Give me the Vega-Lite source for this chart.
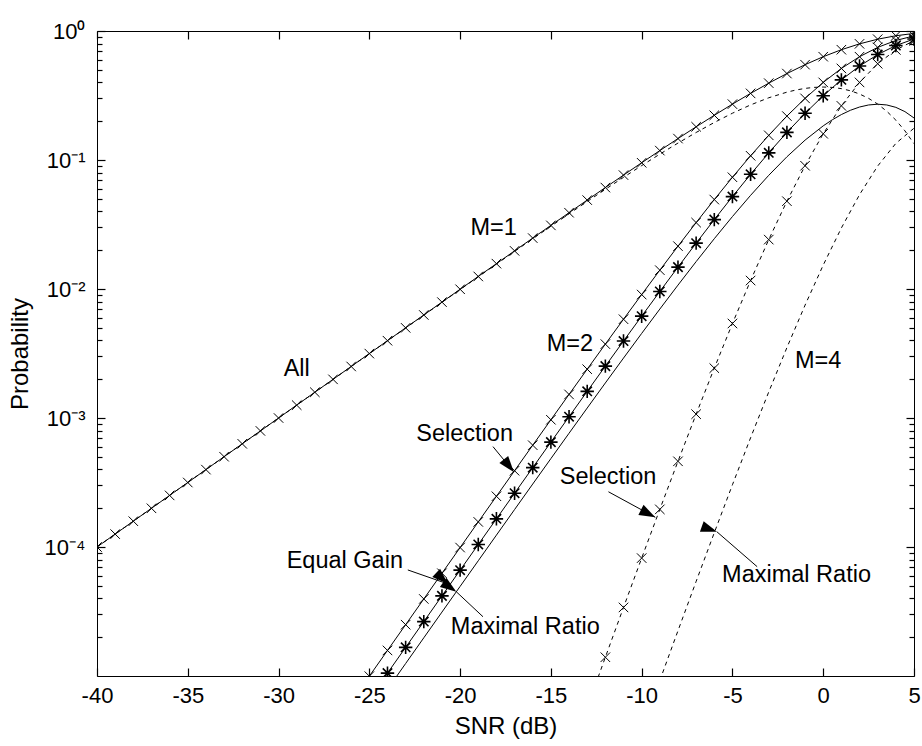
{
  "$schema": "https://vega.github.io/schema/vega-lite/v6.json",
  "width": 817,
  "height": 645,
  "autosize": {"type": "none"},
  "padding": {"left": 97, "top": 31, "right": 8, "bottom": 70},
  "background": "white",
  "config": {
    "view": {"stroke": "black", "strokeWidth": 1},
    "font": "Liberation Sans",
    "axis": {
      "grid": false, "domain": false, "ticks": true, "zindex": 1, "tickColor": "black", "tickWidth": 1.2, "tickOpacity": 1,
      "labelColor": "black", "titleColor": "black",
      "labelFont": "Liberation Sans", "titleFont": "Liberation Sans",
      "labelFontSize": 22, "titleFontSize": 24, "titleFontWeight": "normal",
      "labelFlush": false, "labelOverlap": false
    }
  },
  "datasets": {
    "curves": [
      {"series":"M1All","snr":-40,"p":1.0e-4},{"series":"M1All","snr":-39,"p":1.2588e-4},{"series":"M1All","snr":-38,"p":1.5848e-4},{"series":"M1All","snr":-37,"p":1.9951e-4},{"series":"M1All","snr":-36,"p":2.5116e-4},{"series":"M1All","snr":-35,"p":3.1618e-4},{"series":"M1All","snr":-34,"p":3.9803e-4},{"series":"M1All","snr":-33,"p":5.0106e-4},{"series":"M1All","snr":-32,"p":6.3076e-4},{"series":"M1All","snr":-31,"p":7.9401e-4},{"series":"M1All","snr":-30,"p":9.995e-4},{"series":"M1All","snr":-29,"p":1.2581e-3},{"series":"M1All","snr":-28,"p":1.5836e-3},{"series":"M1All","snr":-27,"p":1.9933e-3},{"series":"M1All","snr":-26,"p":2.5087e-3},{"series":"M1All","snr":-25,"p":3.1573e-3},{"series":"M1All","snr":-24,"p":3.9732e-3},{"series":"M1All","snr":-23,"p":4.9994e-3},{"series":"M1All","snr":-22,"p":6.2897e-3},{"series":"M1All","snr":-21,"p":7.9118e-3},{"series":"M1All","snr":-20,"p":0.00995},{"series":"M1All","snr":-19,"p":0.01251},{"series":"M1All","snr":-18,"p":0.015724},{"series":"M1All","snr":-17,"p":0.019755},{"series":"M1All","snr":-16,"p":0.024806},{"series":"M1All","snr":-15,"p":0.031128},{"series":"M1All","snr":-14,"p":0.039029},{"series":"M1All","snr":-13,"p":0.048884},{"series":"M1All","snr":-12,"p":0.061146},{"series":"M1All","snr":-11,"p":0.076361},{"series":"M1All","snr":-10,"p":0.095163},{"series":"M1All","snr":-9,"p":0.11829},{"series":"M1All","snr":-8,"p":0.14657},{"series":"M1All","snr":-7,"p":0.18089},{"series":"M1All","snr":-6,"p":0.22213},{"series":"M1All","snr":-5,"p":0.27111},{"series":"M1All","snr":-4,"p":0.32841},{"series":"M1All","snr":-3,"p":0.39419},{"series":"M1All","snr":-2,"p":0.46792},{"series":"M1All","snr":-1,"p":0.54812},{"series":"M1All","snr":0,"p":0.63212},{"series":"M1All","snr":1,"p":0.71603},{"series":"M1All","snr":2,"p":0.79503},{"series":"M1All","snr":3,"p":0.86403},{"series":"M1All","snr":4,"p":0.91889},{"series":"M1All","snr":5,"p":0.95767},
      {"series":"M1MR","snr":-40,"p":9.999e-5},{"series":"M1MR","snr":-39,"p":1.2587e-4},{"series":"M1MR","snr":-38,"p":1.5846e-4},{"series":"M1MR","snr":-37,"p":1.9949e-4},{"series":"M1MR","snr":-36,"p":2.5113e-4},{"series":"M1MR","snr":-35,"p":3.1613e-4},{"series":"M1MR","snr":-34,"p":3.9795e-4},{"series":"M1MR","snr":-33,"p":5.0094e-4},{"series":"M1MR","snr":-32,"p":6.3056e-4},{"series":"M1MR","snr":-31,"p":7.937e-4},{"series":"M1MR","snr":-30,"p":9.99e-4},{"series":"M1MR","snr":-29,"p":1.2573e-3},{"series":"M1MR","snr":-28,"p":1.5824e-3},{"series":"M1MR","snr":-27,"p":1.9913e-3},{"series":"M1MR","snr":-26,"p":2.5056e-3},{"series":"M1MR","snr":-25,"p":3.1523e-3},{"series":"M1MR","snr":-24,"p":3.9653e-3},{"series":"M1MR","snr":-23,"p":4.9868e-3},{"series":"M1MR","snr":-22,"p":6.2699e-3},{"series":"M1MR","snr":-21,"p":7.8804e-3},{"series":"M1MR","snr":-20,"p":9.9005e-3},{"series":"M1MR","snr":-19,"p":0.012432},{"series":"M1MR","snr":-18,"p":0.0156},{"series":"M1MR","snr":-17,"p":0.019559},{"series":"M1MR","snr":-16,"p":0.024496},{"series":"M1MR","snr":-15,"p":0.030639},{"series":"M1MR","snr":-14,"p":0.038257},{"series":"M1MR","snr":-13,"p":0.047669},{"series":"M1MR","snr":-12,"p":0.059238},{"series":"M1MR","snr":-11,"p":0.073368},{"series":"M1MR","snr":-10,"p":0.090484},{"series":"M1MR","snr":-9,"p":0.111},{"series":"M1MR","snr":-8,"p":0.13526},{"series":"M1MR","snr":-7,"p":0.16344},{"series":"M1MR","snr":-6,"p":0.19539},{"series":"M1MR","snr":-5,"p":0.2305},{"series":"M1MR","snr":-4,"p":0.26737},{"series":"M1MR","snr":-3,"p":0.30363},{"series":"M1MR","snr":-2,"p":0.33572},{"series":"M1MR","snr":-1.5,"p":0.34877},{"series":"M1MR","snr":-1,"p":0.35894},{"series":"M1MR","snr":-0.5,"p":0.36554},{"series":"M1MR","snr":0,"p":0.36788},{"series":"M1MR","snr":0.5,"p":0.36535},{"series":"M1MR","snr":1,"p":0.35749},{"series":"M1MR","snr":1.5,"p":0.34398},{"series":"M1MR","snr":2,"p":0.32486},{"series":"M1MR","snr":2.5,"p":0.3004},{"series":"M1MR","snr":3,"p":0.2713},{"series":"M1MR","snr":3.5,"p":0.23863},{"series":"M1MR","snr":4,"p":0.20375},{"series":"M1MR","snr":4.5,"p":0.16827},{"series":"M1MR","snr":5,"p":0.13385},
      {"series":"M2Sel","snr":-25,"p":9.968e-6},{"series":"M2Sel","snr":-24,"p":1.5786e-5},{"series":"M2Sel","snr":-23,"p":2.4994e-5},{"series":"M2Sel","snr":-22,"p":3.956e-5},{"series":"M2Sel","snr":-21,"p":6.2597e-5},{"series":"M2Sel","snr":-20,"p":9.9003e-5},{"series":"M2Sel","snr":-19,"p":1.565e-4},{"series":"M2Sel","snr":-18,"p":2.4724e-4},{"series":"M2Sel","snr":-17,"p":3.9026e-4},{"series":"M2Sel","snr":-16,"p":6.1534e-4},{"series":"M2Sel","snr":-15,"p":9.6895e-4},{"series":"M2Sel","snr":-14,"p":1.5233e-3},{"series":"M2Sel","snr":-13,"p":2.3897e-3},{"series":"M2Sel","snr":-12,"p":3.7388e-3},{"series":"M2Sel","snr":-11,"p":5.831e-3},{"series":"M2Sel","snr":-10,"p":9.056e-3},{"series":"M2Sel","snr":-9,"p":0.013993},{"series":"M2Sel","snr":-8,"p":0.021483},{"series":"M2Sel","snr":-7,"p":0.032721},{"series":"M2Sel","snr":-6,"p":0.049346},{"series":"M2Sel","snr":-5,"p":0.073506},{"series":"M2Sel","snr":-4,"p":0.10785},{"series":"M2Sel","snr":-3,"p":0.15539},{"series":"M2Sel","snr":-2,"p":0.21895},{"series":"M2Sel","snr":-1,"p":0.30044},{"series":"M2Sel","snr":0,"p":0.39958},{"series":"M2Sel","snr":1,"p":0.5127},{"series":"M2Sel","snr":2,"p":0.63207},{"series":"M2Sel","snr":3,"p":0.74655},{"series":"M2Sel","snr":4,"p":0.84436},{"series":"M2Sel","snr":5,"p":0.91713},
      {"series":"M2EGC","snr":-25,"p":6.65e-6},{"series":"M2EGC","snr":-24,"p":1.0532e-5},{"series":"M2EGC","snr":-23,"p":1.6679e-5},{"series":"M2EGC","snr":-22,"p":2.6407e-5},{"series":"M2EGC","snr":-21,"p":4.1797e-5},{"series":"M2EGC","snr":-20,"p":6.6136e-5},{"series":"M2EGC","snr":-19,"p":1.046e-4},{"series":"M2EGC","snr":-18,"p":1.6535e-4},{"series":"M2EGC","snr":-17,"p":2.6121e-4},{"series":"M2EGC","snr":-16,"p":4.1229e-4},{"series":"M2EGC","snr":-15,"p":6.5005e-4},{"series":"M2EGC","snr":-14,"p":1.0236e-3},{"series":"M2EGC","snr":-13,"p":1.609e-3},{"series":"M2EGC","snr":-12,"p":2.524e-3},{"series":"M2EGC","snr":-11,"p":3.949e-3},{"series":"M2EGC","snr":-10,"p":6.157e-3},{"series":"M2EGC","snr":-9,"p":9.565e-3},{"series":"M2EGC","snr":-8,"p":0.014778},{"series":"M2EGC","snr":-7,"p":0.022672},{"series":"M2EGC","snr":-6,"p":0.034518},{"series":"M2EGC","snr":-5,"p":0.052031},{"series":"M2EGC","snr":-4,"p":0.077468},{"series":"M2EGC","snr":-3,"p":0.1136},{"series":"M2EGC","snr":-2,"p":0.16373},{"series":"M2EGC","snr":-1,"p":0.2301},{"series":"M2EGC","snr":0,"p":0.31518},{"series":"M2EGC","snr":1,"p":0.41816},{"series":"M2EGC","snr":2,"p":0.53493},{"series":"M2EGC","snr":3,"p":0.65666},{"series":"M2EGC","snr":4,"p":0.77126},{"series":"M2EGC","snr":5,"p":0.86645},
      {"series":"M2MR","snr":-24,"p":7.893e-6},{"series":"M2MR","snr":-23,"p":1.2497e-5},{"series":"M2MR","snr":-22,"p":1.978e-5},{"series":"M2MR","snr":-21,"p":3.1298e-5},{"series":"M2MR","snr":-20,"p":4.9502e-5},{"series":"M2MR","snr":-19,"p":7.8254e-5},{"series":"M2MR","snr":-18,"p":1.2362e-4},{"series":"M2MR","snr":-17,"p":1.9512e-4},{"series":"M2MR","snr":-16,"p":3.0765e-4},{"series":"M2MR","snr":-15,"p":4.8444e-4},{"series":"M2MR","snr":-14,"p":7.6152e-4},{"series":"M2MR","snr":-13,"p":1.1946e-3},{"series":"M2MR","snr":-12,"p":1.8688e-3},{"series":"M2MR","snr":-11,"p":2.9139e-3},{"series":"M2MR","snr":-10,"p":4.5242e-3},{"series":"M2MR","snr":-9,"p":6.9871e-3},{"series":"M2MR","snr":-8,"p":0.010719},{"series":"M2MR","snr":-7,"p":0.016305},{"series":"M2MR","snr":-6,"p":0.02454},{"series":"M2MR","snr":-5,"p":0.036445},{"series":"M2MR","snr":-4,"p":0.05322},{"series":"M2MR","snr":-3,"p":0.076087},{"series":"M2MR","snr":-2,"p":0.10591},{"series":"M2MR","snr":-1,"p":0.14256},{"series":"M2MR","snr":0,"p":0.18394},{"series":"M2MR","snr":0.5,"p":0.20496},{"series":"M2MR","snr":1,"p":0.22503},{"series":"M2MR","snr":1.5,"p":0.24297},{"series":"M2MR","snr":2,"p":0.25743},{"series":"M2MR","snr":2.5,"p":0.26709},{"series":"M2MR","snr":3,"p":0.27066},{"series":"M2MR","snr":3.5,"p":0.26706},{"series":"M2MR","snr":4,"p":0.2559},{"series":"M2MR","snr":4.5,"p":0.23715},{"series":"M2MR","snr":5,"p":0.21164},
      {"series":"M4Sel","snr":-13,"p":5.7107e-6},{"series":"M4Sel","snr":-12,"p":1.3979e-5},{"series":"M4Sel","snr":-11,"p":3.4001e-5},{"series":"M4Sel","snr":-10,"p":8.2011e-5},{"series":"M4Sel","snr":-9,"p":1.958e-4},{"series":"M4Sel","snr":-8,"p":4.6152e-4},{"series":"M4Sel","snr":-7,"p":1.0707e-3},{"series":"M4Sel","snr":-6,"p":2.435e-3},{"series":"M4Sel","snr":-5,"p":5.4031e-3},{"series":"M4Sel","snr":-4,"p":0.011632},{"series":"M4Sel","snr":-3,"p":0.024146},{"series":"M4Sel","snr":-2,"p":0.047939},{"series":"M4Sel","snr":-1,"p":0.090264},{"series":"M4Sel","snr":0,"p":0.15967},{"series":"M4Sel","snr":1,"p":0.26286},{"series":"M4Sel","snr":2,"p":0.39951},{"series":"M4Sel","snr":3,"p":0.55734},{"series":"M4Sel","snr":4,"p":0.71294},{"series":"M4Sel","snr":5,"p":0.84113},
      {"series":"M4MR","snr":-9,"p":9.228e-6},{"series":"M4MR","snr":-8,"p":2.2437e-5},{"series":"M4MR","snr":-7,"p":5.4093e-5},{"series":"M4MR","snr":-6,"p":1.2903e-4},{"series":"M4MR","snr":-5,"p":3.037e-4},{"series":"M4MR","snr":-4,"p":7.0291e-4},{"series":"M4MR","snr":-3,"p":1.5927e-3},{"series":"M4MR","snr":-2,"p":3.5137e-3},{"series":"M4MR","snr":-1,"p":7.4958e-3},{"series":"M4MR","snr":0,"p":0.015328},{"series":"M4MR","snr":1,"p":0.029721},{"series":"M4MR","snr":2,"p":0.053887},{"series":"M4MR","snr":3,"p":0.089792},{"series":"M4MR","snr":4,"p":0.13455},{"series":"M4MR","snr":5,"p":0.17637}
    ],
    "notes": [
      {"label":"All","snr":-29.0,"p":0.0024},
      {"label":"M=1","snr":-18.15,"p":0.0297},
      {"label":"M=2","snr":-13.95,"p":0.00375},
      {"label":"M=4","snr":-0.28,"p":0.00277},
      {"label":"Selection","snr":-19.75,"p":0.000752},
      {"label":"Equal Gain","snr":-26.35,"p":0.0000779},
      {"label":"Maximal Ratio","snr":-16.41,"p":0.0000238},
      {"label":"Selection","snr":-11.85,"p":0.000349},
      {"label":"Maximal Ratio","snr":-1.47,"p":0.0000607}
    ],
    "arrows": [
      {"arrow":"a","snr":-18.19,"p":0.0006,"snr2":-17.04,"p2":0.000381},
      {"arrow":"b","snr":-22.88,"p":0.0000664,"snr2":-20.67,"p2":0.0000517},
      {"arrow":"c","snr":-18.74,"p":0.0000288,"snr2":-20.21,"p2":0.000045},
      {"arrow":"d","snr":-11.83,"p":0.000268,"snr2":-9.25,"p2":0.00017},
      {"arrow":"e","snr":-3.64,"p":0.0000704,"snr2":-5.85,"p2":0.000131}
    ]
  },
  "layer": [
    {
      "data": {"name": "curves"},
      "transform": [{"filter": {"field": "series", "oneOf": ["M1All", "M2Sel", "M2EGC", "M2MR"]}}],
      "mark": {"type": "line", "color": "black", "strokeWidth": 1, "clip": true},
      "encoding": {
        "x": {"field": "snr", "type": "quantitative", "scale": {"domain": [-40, 5], "nice": false, "zero": false},
          "axis": {"orient": "bottom", "offset": -8, "values": [-40, -35, -30, -25, -20, -15, -10, -5, 0, 5], "tickSize": 8, "labelPadding": 9, "labelExpr": "'' + datum.value", "title": "SNR (dB)", "titlePadding": 8}},
        "y": {"field": "p", "type": "quantitative", "scale": {"type": "log", "domain": [0.00001, 1], "nice": false},
          "axis": {"orient": "left", "offset": -8, "values": [0.0001, 0.001, 0.01, 0.1, 1], "tickSize": 8, "labelPadding": 12, "labelBaseline": "middle",
            "labelExpr": "datum.value >= 0.5 ? '10⁰' : datum.value >= 0.05 ? '10⁻¹' : datum.value >= 0.005 ? '10⁻²' : datum.value >= 0.0005 ? '10⁻³' : '10⁻⁴'",
            "title": "Probability", "titlePadding": 12}},
        "detail": {"field": "series"}
      }
    },
    {
      "data": {"name": "curves"},
      "transform": [{"filter": {"field": "series", "oneOf": ["M1MR", "M4Sel", "M4MR"]}}],
      "mark": {"type": "line", "color": "black", "strokeWidth": 1, "strokeDash": [4, 4], "clip": true},
      "encoding": {
        "x": {"field": "snr", "type": "quantitative", "scale": {"domain": [-40, 5], "nice": false, "zero": false},
          "axis": {"orient": "top", "offset": -8, "values": [-40, -35, -30, -25, -20, -15, -10, -5, 0, 5], "tickSize": 8, "labels": false, "title": null}},
        "y": {"field": "p", "type": "quantitative", "scale": {"type": "log", "domain": [0.00001, 1], "nice": false},
          "axis": {"orient": "right", "offset": -8, "values": [0.0001, 0.001, 0.01, 0.1, 1], "tickSize": 8, "labels": false, "title": null}},
        "detail": {"field": "series"}
      }
    },
    {
      "data": {"name": "curves"},
      "transform": [{"filter": {"field": "series", "oneOf": ["M1All", "M2Sel", "M4Sel"]}}],
      "mark": {"type": "point", "shape": "M-1,-1L1,1M1,-1L-1,1", "filled": false, "stroke": "black", "strokeWidth": 1, "size": 90, "opacity": 1, "clip": true},
      "encoding": {
        "x": {"field": "snr", "type": "quantitative", "scale": {"domain": [-40, 5], "nice": false, "zero": false}, "axis": null},
        "y": {"field": "p", "type": "quantitative", "scale": {"type": "log", "domain": [0.00001, 1], "nice": false},
          "axis": {"orient": "left", "offset": -5, "values": [0.00002,0.00003,0.00004,0.00005,0.00006,0.00007,0.00008,0.00009,0.0002,0.0003,0.0004,0.0005,0.0006,0.0007,0.0008,0.0009,0.002,0.003,0.004,0.005,0.006,0.007,0.008,0.009,0.02,0.03,0.04,0.05,0.06,0.07,0.08,0.09,0.2,0.3,0.4,0.5,0.6,0.7,0.8,0.9], "tickSize": 5, "labels": false, "title": null}}
      }
    },
    {
      "data": {"name": "curves"},
      "transform": [{"filter": {"field": "series", "equal": "M2EGC"}}],
      "mark": {"type": "point", "shape": "M-1,0L1,0M0,-1L0,1M-0.7,-0.7L0.7,0.7M-0.7,0.7L0.7,-0.7", "filled": false, "stroke": "black", "strokeWidth": 1.6, "size": 180, "opacity": 1, "clip": true},
      "encoding": {
        "x": {"field": "snr", "type": "quantitative", "scale": {"domain": [-40, 5], "nice": false, "zero": false}, "axis": null},
        "y": {"field": "p", "type": "quantitative", "scale": {"type": "log", "domain": [0.00001, 1], "nice": false},
          "axis": {"orient": "right", "offset": -5, "values": [0.00002,0.00003,0.00004,0.00005,0.00006,0.00007,0.00008,0.00009,0.0002,0.0003,0.0004,0.0005,0.0006,0.0007,0.0008,0.0009,0.002,0.003,0.004,0.005,0.006,0.007,0.008,0.009,0.02,0.03,0.04,0.05,0.06,0.07,0.08,0.09,0.2,0.3,0.4,0.5,0.6,0.7,0.8,0.9], "tickSize": 5, "labels": false, "title": null}}
      }
    },
    {
      "data": {"name": "arrows"},
      "mark": {"type": "rule", "color": "black", "strokeWidth": 1},
      "encoding": {
        "x": {"field": "snr", "type": "quantitative", "scale": {"domain": [-40, 5], "nice": false, "zero": false}, "axis": null},
        "y": {"field": "p", "type": "quantitative", "scale": {"type": "log", "domain": [0.00001, 1], "nice": false}, "axis": null},
        "x2": {"field": "snr2"},
        "y2": {"field": "p2"}
      }
    },
    {
      "data": {"name": "arrows"},
      "mark": {"type": "point", "shape": "M0,0L0.7,2L-0.7,2Z", "filled": true, "color": "black", "size": 260, "opacity": 1},
      "encoding": {
        "x": {"field": "snr2", "type": "quantitative", "scale": {"domain": [-40, 5], "nice": false, "zero": false}, "axis": null},
        "y": {"field": "p2", "type": "quantitative", "scale": {"type": "log", "domain": [0.00001, 1], "nice": false}, "axis": null},
        "angle": {"field": "arrow", "type": "nominal", "scale": {"domain": ["a", "b", "c", "d", "e"], "range": [141.3, 109.3, 313.2, 118.7, 311.2]}, "legend": null}
      }
    },
    {
      "data": {"name": "notes"},
      "mark": {"type": "text", "font": "Liberation Sans", "fontSize": 23.5, "color": "black", "align": "center", "baseline": "middle"},
      "encoding": {
        "x": {"field": "snr", "type": "quantitative", "scale": {"domain": [-40, 5], "nice": false, "zero": false}, "axis": null},
        "y": {"field": "p", "type": "quantitative", "scale": {"type": "log", "domain": [0.00001, 1], "nice": false}, "axis": null},
        "text": {"field": "label"}
      }
    }
  ],
  "resolve": {"axis": {"x": "independent", "y": "independent"}}
}
